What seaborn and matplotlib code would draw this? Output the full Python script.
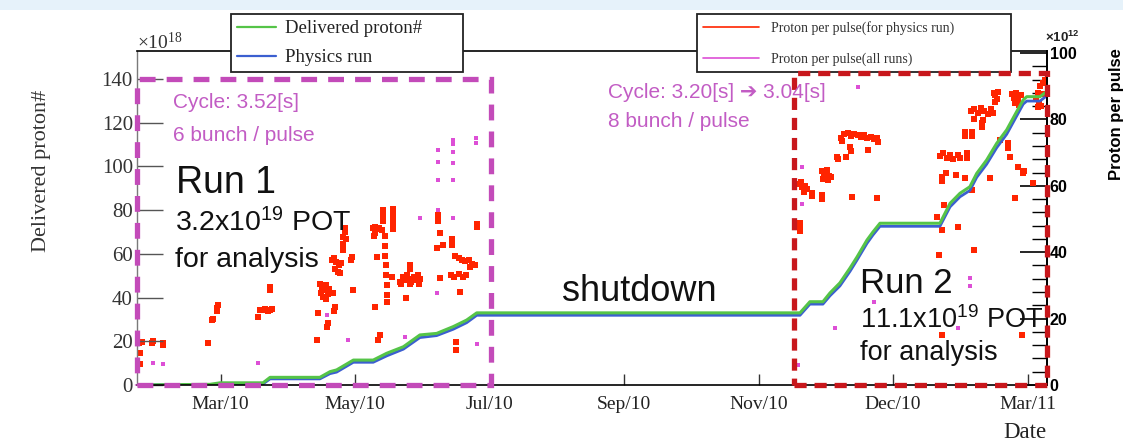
import matplotlib
matplotlib.use("Agg")
import matplotlib.pyplot as plt
from matplotlib.patches import Rectangle
from matplotlib.lines import Line2D
from matplotlib.ticker import MultipleLocator
import pandas as pd
import seaborn as sns

sns.set_theme(style="ticks")
SERIF = ["Liberation Serif", "DejaVu Serif"]
SANS = ["Liberation Sans", "DejaVu Sans"]
plt.rcParams["font.family"] = SERIF
plt.rcParams["axes.unicode_minus"] = False

# ---- data -------------------------------------------------------------
# days since the start of the plotted period
pot_day = [0, 33.1, 37.7, 57.2, 60.4, 83.0, 87.6, 90.6, 98.2, 107.2,
           113.3, 120.9, 128.4, 136.0, 143.5, 149.6, 154.2,
           300.9, 305.4, 311.3, 314.5, 319.0, 323.6, 326.8, 331.3, 334.0, 337.2,
           364.4, 369.0, 373.5, 378.0, 381.1, 385.6, 390.2, 394.7, 399.2, 402.2,
           403.8, 409.8, 412.5]
# accumulated protons on target, x10^18
delivered_pot = [0, 0.3, 1.0, 1.0, 3.5, 3.5, 6.1, 6.9, 11.4, 11.4,
                 14.5, 17.5, 22.9, 23.6, 26.7, 29.7, 33.0,
                 33.0, 38.1, 38.1, 42.1, 46.7, 53.5, 58.6, 66.3, 70.0, 74.0,
                 74.0, 83.1, 87.7, 90.7, 96.8, 102.9, 110.6, 116.7, 125.0, 130.4,
                 131.9, 131.9, 134.0]
physics_pot = [0, 0.1, 0.5, 0.5, 2.8, 2.8, 5.2, 5.9, 10.4, 10.4,
               13.3, 16.4, 21.7, 22.6, 25.5, 28.5, 31.9,
               31.9, 37.0, 37.0, 40.8, 45.3, 52.0, 57.2, 64.8, 68.6, 72.6,
               72.6, 81.5, 86.1, 89.0, 95.0, 101.0, 108.6, 114.7, 123.0, 128.5,
               129.9, 129.9, 132.0]

# protons per pulse, x10^12 : (day, value)
ppp_physics_run1 = [
    (1.0, 12.8), (2.1, 13.0), (7.4, 13.3), (7.0, 12.6), (11.9, 12.6), (11.9, 11.9), (1.4, 9.5), (1.4, 6.3),
    (32.4, 12.7), (33.9, 19.6), (34.4, 19.9), (36.2, 23.1), (36.2, 22.2), (36.6, 24.0),
    (55.1, 20.6), (55.8, 22.6), (57.0, 22.6), (58.1, 22.9), (59.3, 22.4), (60.4, 22.6), (61.1, 22.8),
    (60.4, 29.6), (60.4, 28.6),
    (81.6, 13.6), (82.3, 21.6), (83.0, 30.5), (84.0, 29.5), (85.0, 28.5), (86.0, 30.0), (87.0, 29.0),
    (83.5, 27.8), (86.5, 27.5), (84.5, 26.5), (86.0, 25.8),
    (86.1, 17.6), (86.8, 18.6), (89.1, 27.6), (89.9, 23.5), (89.6, 22.4),
    (88.5, 37.5), (89.5, 38.2), (90.5, 37.0), (91.5, 36.0), (92.5, 36.8), (90.0, 35.0), (91.0, 34.0), (92.1, 33.6),
    (93.5, 44.6), (93.5, 42.6), (93.6, 40.7), (94.4, 47.2), (94.4, 46.0), (94.8, 44.0),
    (97.4, 38.6), (97.0, 37.5), (98.2, 28.6),
    (107.0, 47.2), (108.0, 47.6), (109.0, 47.0), (110.0, 47.4), (111.0, 46.6), (108.0, 45.8), (107.5, 44.8),
    (111.8, 52.8), (111.8, 51.0), (111.8, 49.5),
    (116.3, 53.0), (116.3, 51.5), (116.3, 50.0), (116.3, 48.5), (116.3, 47.0),
    (112.5, 45.0), (112.6, 42.0), (112.7, 39.0), (112.8, 36.0), (113.2, 33.0), (113.3, 30.0), (113.4, 27.0), (113.5, 25.0),
    (108.8, 38.6), (108.0, 23.6), (109.5, 13.6), (110.5, 15.0), (115.6, 32.6),
    (119.5, 31.0), (120.5, 32.5), (121.5, 31.5), (122.5, 33.0), (123.5, 32.0), (124.5, 31.0), (125.5, 32.5),
    (126.5, 31.5), (127.5, 33.0), (128.5, 32.0), (120.0, 30.3), (124.0, 30.3), (128.0, 30.5),
    (123.9, 36.1), (123.9, 35.0), (122.3, 26.1),
    (136.7, 51.2), (136.7, 49.5), (137.4, 45.7), (136.0, 41.2), (139.0, 42.2), (142.8, 42.2), (142.8, 44.0), (137.4, 32.1),
    (142.5, 33.2), (144.0, 32.5), (146.0, 33.5), (148.0, 32.4), (149.5, 33.0),
    (144.5, 38.8), (146.0, 38.2), (147.5, 37.5), (149.0, 37.2), (150.5, 37.8), (152.0, 36.5), (153.5, 36.0), (151.0, 35.6),
    (154.2, 47.7), (154.2, 48.6), (146.5, 28.1), (145.0, 13.0), (145.0, 10.5),
]
ppp_physics_run2 = [
    (300.8, 48.8), (301.0, 47.7), (301.0, 46.5),
    (300.9, 60.5), (301.5, 61.2), (302.0, 59.5), (303.0, 60.0), (304.0, 59.0), (302.5, 58.0), (306.2, 57.7), (306.5, 56.8),
    (310.8, 64.5), (312.0, 63.5), (313.0, 64.8), (314.0, 63.0), (315.0, 62.5), (311.5, 62.0), (313.5, 61.8),
    (311.0, 57.2), (311.0, 56.0),
    (317.5, 68.8), (318.0, 68.0), (322.0, 68.8), (323.5, 71.8), (324.0, 70.5),
    (319.5, 74.5), (321.0, 75.5), (322.5, 75.8), (324.0, 75.0), (325.5, 75.6), (327.0, 75.3), (328.5, 74.8),
    (330.0, 75.2), (331.5, 74.5), (333.0, 74.8), (334.5, 74.0), (336.0, 74.4), (320.0, 73.4), (336.5, 73.2),
    (331.9, 70.8), (324.3, 56.7), (335.7, 56.2),
    (364.5, 69.0), (366.0, 69.8), (367.5, 68.5), (369.0, 69.2), (370.5, 68.0), (372.7, 69.3), (373.5, 68.5),
    (376.5, 69.8), (376.5, 68.3),
    (365.2, 62.7), (365.5, 61.5), (367.0, 63.8), (371.5, 63.3),
    (375.8, 76.3), (375.8, 75.0), (378.8, 76.3), (378.8, 75.0),
    (378.5, 82.5), (380.0, 83.2), (381.5, 82.0), (383.0, 83.4), (384.5, 82.5), (386.0, 81.5), (387.5, 83.0),
    (388.5, 82.0), (380.0, 80.2), (384.0, 79.9), (383.3, 78.8), (383.3, 77.8),
    (388.8, 88.0), (389.6, 87.2), (390.2, 86.0), (389.2, 85.2), (390.6, 88.4),
    (397.0, 87.5), (398.0, 86.5), (399.0, 87.8), (400.0, 86.0), (401.0, 87.2), (398.5, 84.8), (400.5, 84.4),
    (391.6, 73.8), (395.4, 72.9), (395.4, 71.5), (396.2, 68.8), (399.9, 65.8), (402.2, 63.8), (402.6, 64.5),
    (387.1, 62.3), (378.8, 58.7), (375.8, 62.3),
    (366.1, 54.2), (363.1, 50.7), (365.2, 46.7), (372.7, 47.7), (363.9, 39.2), (379.7, 40.7),
    (365.2, 15.1), (401.5, 15.1),
    (408.2, 86.0), (409.0, 88.0), (410.0, 90.0), (411.0, 91.0), (412.0, 92.0), (409.5, 85.0), (411.5, 87.5),
    (410.5, 84.0), (408.9, 83.8),
    (406.6, 60.8), (398.5, 56.2),
]
ppp_all_runs = [
    (7.4, 6.5), (11.9, 6.3), (55.0, 6.7), (86.1, 21.1), (95.9, 13.6), (121.6, 14.5), (128.4, 50.2),
    (136.7, 70.8), (136.7, 67.3), (136.7, 61.8), (136.7, 52.7), (136.0, 27.6),
    (143.6, 73.8), (143.6, 72.5), (143.6, 70.3), (143.6, 66.8), (143.6, 61.8), (143.6, 50.2),
    (154.0, 74.4), (154.0, 73.0), (154.2, 12.3),
    (300.1, 6.0), (301.7, 54.6), (301.7, 65.8), (316.8, 17.1), (327.3, 89.8), (334.4, 25.1),
    (372.7, 17.1), (378.0, 32.1), (378.0, 29.8),
]

date_tick_day = [37.9, 98.95, 160.0, 221.05, 282.1, 343.15, 404.2]
date_tick_label = ["Mar/10", "May/10", "Jul/10", "Sep/10", "Nov/10", "Dec/10", "Mar/11"]

run1_days = (0.0, 160.7)
run2_days = (298.4, 412.8)
run1_box_top = 140.0
run2_box_top = 142.7

# ---- styling ------------------------------------------------------------
GREEN = "#55c448"
BLUE = "#3b5fd0"
RED = "#ff2400"
MAGENTA = "#dd4fd6"
BOX_MAGENTA = "#c34bb9"
BOX_RED = "#c8171c"
NOTE_MAGENTA = "#c25cc4"

W, H = 1123, 442
fig = plt.figure(figsize=(W / 100, H / 100), dpi=100)
fig.patch.set_facecolor("white")
ax = fig.add_axes([137 / W, (H - 385) / H, 910 / W, 334 / H])
ax2 = ax.twinx()
ax.set_zorder(ax2.get_zorder() + 1)
ax.patch.set_visible(False)
ax2.patch.set_facecolor("white")

cum = pd.DataFrame({"day": pot_day, "delivered": delivered_pot, "physics": physics_pot})
phys = pd.DataFrame(ppp_physics_run1 + ppp_physics_run2, columns=["day", "ppp"])
allr = pd.DataFrame(ppp_all_runs, columns=["day", "ppp"])

# protons per pulse on the right-hand scale
sns.scatterplot(data=allr, x="day", y="ppp", ax=ax2, color=MAGENTA, marker="s",
                s=5, linewidth=0, legend=False)
sns.scatterplot(data=phys, x="day", y="ppp", ax=ax2, color=RED, marker="s",
                s=18, linewidth=0, legend=False)

# accumulated POT on the left-hand scale
sns.lineplot(data=cum, x="day", y="physics", ax=ax, color=BLUE, lw=2.0,
             estimator=None, sort=False)
sns.lineplot(data=cum, x="day", y="delivered", ax=ax, color=GREEN, lw=2.2,
             estimator=None, sort=False)

ax.set_xlim(0, 413)
ax.set_ylim(0, 152.8)
ax2.set_ylim(0, 100.6)
ax.set_xlabel("")
ax.set_ylabel("")
ax2.set_ylabel("")

# left axis
ax.set_yticks(range(0, 141, 20))
ax.tick_params(axis="y", which="major", direction="in", length=18.7, width=1.0,
               color="#555555", labelcolor="#333333", labelsize=15, pad=3,
               left=True, right=False)
for t in ax.get_yticklabels():
    t.set_fontfamily(SERIF)

# date axis
ax.set_xticks(date_tick_day)
ax.set_xticklabels(date_tick_label)
ax.tick_params(axis="x", which="major", direction="in", length=8, width=1.0,
               color="#333333", labelcolor="#222222", labelsize=14, pad=8,
               top=False, bottom=True)
for t in ax.get_xticklabels():
    t.set_fontfamily(SERIF)

# right axis
ax2.set_yticks(range(0, 101, 20))
ax2.yaxis.set_minor_locator(MultipleLocator(4))
ax2.tick_params(axis="y", which="major", direction="in", length=19.4, width=1.2,
                color="black", labelcolor="black", labelsize=11.5, pad=2)
ax2.tick_params(axis="y", which="minor", direction="in", length=10.8, width=1.0,
                color="black")
for t in ax2.get_yticklabels():
    t.set_fontfamily(SANS)
    t.set_fontweight("bold")

for side, sp in ax.spines.items():
    sp.set_color("black")
    sp.set_linewidth(1.2)
ax.spines["left"].set_color("#7a7a7a")
ax.spines["left"].set_linewidth(1.0)
for side, sp in ax2.spines.items():
    sp.set_visible(side == "right")
ax2.spines["right"].set_linewidth(1.3)
ax2.spines["right"].set_color("black")

# run windows
ax.add_patch(Rectangle((run1_days[0], 0), run1_days[1] - run1_days[0], run1_box_top,
                       fill=False, edgecolor=BOX_MAGENTA, lw=3.8,
                       linestyle=(0, (3.0, 2.1)), clip_on=False, zorder=6))
ax.add_patch(Rectangle((run2_days[0], 0), run2_days[1] - run2_days[0], run2_box_top,
                       fill=False, edgecolor=BOX_RED, lw=3.8,
                       linestyle=(0, (2.3, 1.5)), clip_on=False, zorder=6))

# annotations
def note(x, y, s, size, color="#111111"):
    ax.text(x, y, s, fontsize=size, color=color, family=SANS, va="baseline",
            ha="left", zorder=7)

note(16.3, 126.7, "Cycle: 3.52[s]", 15, NOTE_MAGENTA)
note(16.3, 111.6, "6 bunch / pulse", 15, NOTE_MAGENTA)
note(17.7, 87.8, "Run 1", 27)
note(17.2, 70.1, r"$\mathregular{3.2x10^{19}}$ POT", 20.5)
note(17.2, 54.1, "for analysis", 20.5)
note(213.8, 131.3, "Cycle: 3.20[s] \u2794 3.04[s]", 15, NOTE_MAGENTA)
note(213.8, 118.0, "8 bunch / pulse", 15, NOTE_MAGENTA)
note(192.7, 38.6, "shutdown", 26)
note(328.1, 42.1, "Run 2", 25)
note(328.1, 26.1, r"$\mathregular{11.1x10^{19}}$ POT", 19.5)
note(328.1, 11.4, "for analysis", 19.5)

# legends
leg1 = ax.legend(handles=[Line2D([], [], color=GREEN, lw=1.6),
                          Line2D([], [], color=BLUE, lw=1.6)],
                 labels=["Delivered proton#", "Physics run"],
                 loc="lower left", bbox_to_anchor=(231 / W, 1 - 72 / H, 232 / W, 0.05),
                 bbox_transform=fig.transFigure, mode="expand", borderaxespad=0,
                 prop={"family": SERIF, "size": 13.5}, handlelength=2.1,
                 handletextpad=0.5, labelspacing=0.65, borderpad=0.3,
                 frameon=True, fancybox=False, framealpha=1, edgecolor="#222222")
leg1.get_frame().set_linewidth(1.3)
for t in leg1.get_texts():
    t.set_color("#222222")
ax.add_artist(leg1)
leg2 = ax.legend(handles=[Line2D([], [], color=RED, lw=1.2),
                          Line2D([], [], color=MAGENTA, lw=1.2)],
                 labels=["Proton per pulse(for physics run)", "Proton per pulse(all runs)"],
                 loc="lower left", bbox_to_anchor=(697 / W, 1 - 72 / H, 314 / W, 0.05),
                 bbox_transform=fig.transFigure, mode="expand", borderaxespad=0,
                 prop={"family": SERIF, "size": 10}, handlelength=4.0,
                 handletextpad=0.85, labelspacing=1.27, borderpad=0.45,
                 frameon=True, fancybox=False, framealpha=1, edgecolor="#222222")
leg2.get_frame().set_linewidth(1.3)
for t in leg2.get_texts():
    t.set_color("#333333")

# axis titles and exponents
fig.text(137 / W, 1 - 42 / H, r"$\mathregular{\times10^{18}}$", family=SERIF,
         fontsize=14, color="#333333", ha="left", va="center")
fig.text(1045 / W, 1 - 37 / H, r"$\mathregular{\times10^{12}}$", family=SANS,
         fontweight="bold", fontsize=9.5, color="#222222", ha="left", va="center")
fig.text(42 / W, 1 - 171 / H, "Delivered proton#", family=SERIF, fontsize=16,
         color="#333333", rotation=90, ha="center", va="center")
fig.text(1116 / W, 1 - 48 / H, "Proton per pulse", family=SANS, fontweight="bold",
         fontsize=12, color="black", rotation=90, ha="center", va="top")
fig.text(1025 / W, 1 - 432 / H, "Date", family=SERIF, fontsize=16.5,
         color="#222222", ha="center", va="center")

# header strip
fig.add_artist(Rectangle((0, 1 - 10 / H), 1, 10 / H, transform=fig.transFigure,
                         facecolor="#e6f2fa", edgecolor="none", zorder=10))

fig.savefig("out.png", dpi=100)
